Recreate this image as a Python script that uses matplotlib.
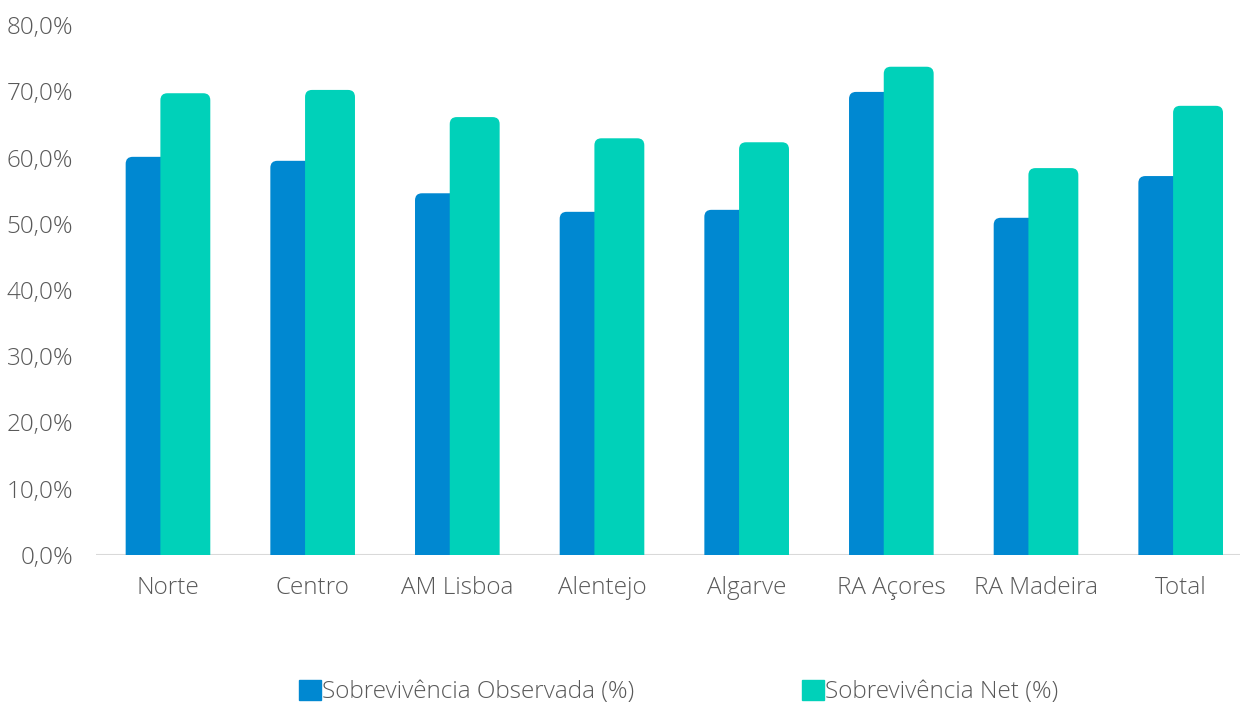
import numpy as np
import matplotlib.pyplot as plt
from matplotlib.patches import FancyBboxPatch
from matplotlib.ticker import FuncFormatter

regioes = ["Norte", "Centro", "AM Lisboa", "Alentejo", "Algarve",
           "RA Açores", "RA Madeira", "Total"]
sobrev_observada = [60.1, 59.5, 54.6, 51.8, 52.1, 69.9, 50.9, 57.2]
sobrev_net = [69.7, 70.2, 66.1, 62.9, 62.3, 73.7, 58.4, 67.8]

cor_obs = "#0088D1"
cor_net = "#00D1B9"
cor_texto = "#595959"

plt.rcParams['font.family'] = ['Open Sans', 'DejaVu Sans']
plt.rcParams['font.weight'] = 'light'

fig = plt.figure(figsize=(12.44, 7.03), dpi=100)
W, H = 1244, 703
ax = fig.add_axes([95.65 / W, 1 - 555 / H, (1240 - 95.65) / W, (555 - 25) / H])

x = np.arange(len(regioes))
largura = 0.345
b_obs = ax.bar(x - 0.12, sobrev_observada, largura, color=cor_obs,
               label="Sobrevivência Observada (%)")
b_net = ax.bar(x + 0.12, sobrev_net, largura, color=cor_net,
               label="Sobrevivência Net (%)")

ax.set_xlim(-0.5, 7.41)
ax.set_ylim(0, 80)

# barras com cantos superiores arredondados
px_x = ax.transData.transform((1, 0))[0] - ax.transData.transform((0, 0))[0]
px_y = ax.transData.transform((0, 1))[1] - ax.transData.transform((0, 0))[1]
raio_px = 7
rx = raio_px / px_x
aspecto = px_x / px_y
ry = rx * aspecto
for cont, z in ((b_obs, 2), (b_net, 3)):
    for r in cont.patches:
        r.set_visible(False)
        p = FancyBboxPatch((r.get_x(), -ry), r.get_width(), r.get_height() + ry,
                           boxstyle=f"round,pad=0,rounding_size={rx}",
                           mutation_aspect=aspecto, facecolor=r.get_facecolor(),
                           edgecolor="none", zorder=z)
        ax.add_patch(p)

ax.axhline(0, color="#D9D9D9", lw=1.5, zorder=1)
for s in ax.spines.values():
    s.set_visible(False)

ax.set_yticks(np.arange(0, 81, 10))
ax.yaxis.set_major_formatter(FuncFormatter(lambda v, _: f"{v:.1f}%".replace(".", ",")))
ax.set_xticks(x)
ax.set_xticklabels(regioes)
ax.tick_params(axis="both", length=0, labelsize=17.5, labelcolor=cor_texto)
ax.tick_params(axis="x", pad=15)
ax.tick_params(axis="y", pad=16)

h_obs = FancyBboxPatch((0, 0), 1, 1, boxstyle="round,pad=0,rounding_size=0.2",
                       color=cor_obs)
h_net = FancyBboxPatch((0, 0), 1, 1, boxstyle="round,pad=0,rounding_size=0.2",
                       color=cor_net)
fig.legend([h_obs, h_net], ["Sobrevivência Observada (%)", "Sobrevivência Net (%)"],
           loc="center", bbox_to_anchor=(679 / W, 1 - 692 / H), ncol=2,
           frameon=False, fontsize=17.5, labelcolor=cor_texto,
           handlelength=0.9, handleheight=0.9, handletextpad=0.05,
           columnspacing=6.9)

fig.savefig("out.png", dpi=100)
